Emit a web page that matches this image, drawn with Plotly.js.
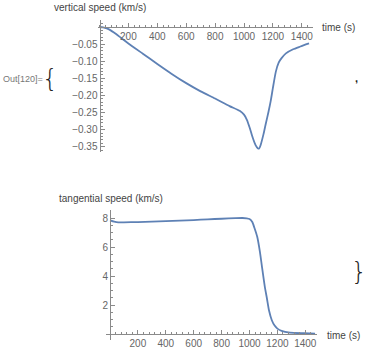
<!DOCTYPE html>
<html>
<head>
<meta charset="utf-8">
<script src="https://cdn.plot.ly/plotly-3.0.1.min.js"></script>
<style>
html,body{margin:0;padding:0;background:#fff;}
#chart{width:367px;height:353px;}
</style>
</head>
<body>
<div id="chart"></div>
<script>
// vertical speed (km/s) vs time (s)
const timeV = [0, 25, 50, 75, 100, 150, 200, 300, 400, 500, 600, 700, 800, 900, 970, 1000, 1020, 1040, 1060, 1080, 1095, 1105, 1115, 1135, 1150, 1170, 1185, 1200, 1220, 1240, 1260, 1290, 1340, 1390, 1450];
const vertSpeed = [0, -0.001, -0.004, -0.009, -0.016, -0.032, -0.048, -0.078, -0.108, -0.137, -0.164, -0.188, -0.209, -0.231, -0.245, -0.256, -0.271, -0.295, -0.323, -0.345, -0.354, -0.355, -0.345, -0.313, -0.284, -0.247, -0.216, -0.178, -0.131, -0.104, -0.091, -0.077, -0.065, -0.057, -0.048];

// tangential speed (km/s) vs time (s)
const timeH = [0, 30, 60, 100, 200, 300, 400, 500, 600, 700, 800, 900, 950, 980, 1000, 1020, 1035, 1055, 1075, 1090, 1110, 1125, 1140, 1160, 1180, 1200, 1230, 1290, 1390, 1470];
const tangSpeed = [7.84, 7.75, 7.70, 7.70, 7.72, 7.75, 7.78, 7.82, 7.86, 7.91, 7.95, 7.99, 8.0, 7.98, 7.93, 7.72, 7.33, 6.72, 5.65, 4.6, 3.25, 2.45, 1.62, 0.95, 0.58, 0.37, 0.21, 0.09, 0.05, 0.03];

const xTicks = [200, 400, 600, 800, 1000, 1200, 1400];
const vTicks = [-0.35, -0.30, -0.25, -0.20, -0.15, -0.10, -0.05];
const hTicks = [2, 4, 6, 8];

const W = 367, H = 353;
const px = v => v / W;
const py = v => 1 - v / H;

const lineColor = '#5E81B5';
const axisColor = '#8a8a8a';
const tickFont = {family: 'Liberation Sans, Arial, sans-serif', size: 10, color: '#666'};
const labFont = {family: 'Liberation Sans, Arial, sans-serif', size: 10, color: '#444'};
const braceFont = {family: 'DejaVu Sans', size: 25, color: '#222', weight: 200};

function fmt(v){ return (v < 0 ? '\u2212' : '') + Math.abs(v).toFixed(2); }

const traces = [
  {x: timeV, y: vertSpeed, xaxis: 'x', yaxis: 'y', mode: 'lines',
   line: {color: lineColor, width: 1.8, shape: 'spline', smoothing: 0.6}, hoverinfo: 'skip'},
  {x: timeH, y: tangSpeed, xaxis: 'x2', yaxis: 'y2', mode: 'lines',
   line: {color: lineColor, width: 1.8, shape: 'spline', smoothing: 0.6}, hoverinfo: 'skip'}
];

const common = {
  showgrid: false, zeroline: false, showline: true, linecolor: axisColor, linewidth: 1,
  ticks: 'inside', ticklen: 4, tickcolor: axisColor, tickwidth: 1, tickfont: tickFont,
  fixedrange: true
};

const layout = {
  width: W, height: H,
  margin: {l: 0, r: 0, t: 0, b: 0},
  paper_bgcolor: '#fff', plot_bgcolor: 'rgba(0,0,0,0)',
  showlegend: false,
  xaxis: Object.assign({}, common, {
    domain: [px(97.5), px(313)], range: [-13.8, 1477.5],
    anchor: 'free', position: py(27),
    tickmode: 'array', tickvals: xTicks, ticktext: xTicks.map(String),
    minor: {tickmode: 'linear', tick0: 0, dtick: 40, ticks: 'inside', ticklen: 2, tickcolor: axisColor}
  }),
  yaxis: Object.assign({}, common, {
    domain: [py(152), py(20)], range: [-0.3652, 0.0205],
    anchor: 'free', position: px(99.5),
    tickmode: 'array', tickvals: vTicks, ticktext: vTicks.map(fmt),
    minor: {tickmode: 'linear', tick0: 0, dtick: 0.01, ticks: 'inside', ticklen: 2, tickcolor: axisColor}
  }),
  xaxis2: Object.assign({}, common, {
    domain: [px(106), px(317)], range: [-28.7, 1483.9],
    anchor: 'free', position: py(334),
    tickmode: 'array', tickvals: xTicks, ticktext: xTicks.map(String),
    minor: {tickmode: 'linear', tick0: 0, dtick: 40, ticks: 'inside', ticklen: 2, tickcolor: axisColor}
  }),
  yaxis2: Object.assign({}, common, {
    domain: [py(340), py(210)], range: [-0.414, 8.552],
    anchor: 'free', position: px(110),
    tickmode: 'array', tickvals: hTicks, ticktext: hTicks.map(String),
    minor: {tickmode: 'linear', tick0: 0, dtick: 0.5, ticks: 'inside', ticklen: 2, tickcolor: axisColor}
  }),
  annotations: [
    {text: 'vertical speed (km/s)', xref: 'paper', yref: 'paper', x: px(99.5), y: py(7), xanchor: 'center', yanchor: 'middle', showarrow: false, font: labFont},
    {text: 'time (s)', xref: 'paper', yref: 'paper', x: px(320), y: py(27), xanchor: 'left', yanchor: 'middle', showarrow: false, font: labFont},
    {text: 'tangential speed (km/s)', xref: 'paper', yref: 'paper', x: px(110.5), y: py(198), xanchor: 'center', yanchor: 'middle', showarrow: false, font: labFont},
    {text: 'time (s)', xref: 'paper', yref: 'paper', x: px(325), y: py(335), xanchor: 'left', yanchor: 'middle', showarrow: false, font: labFont},
    {text: 'Out[120]=', xref: 'paper', yref: 'paper', x: px(1), y: py(79), xanchor: 'left', yanchor: 'middle', showarrow: false,
     font: {family: 'Liberation Sans, Arial, sans-serif', size: 9, color: '#777'}},
    {text: '{', xref: 'paper', yref: 'paper', x: px(50), y: py(78), xanchor: 'center', yanchor: 'middle', showarrow: false, font: braceFont},
    {text: ',', xref: 'paper', yref: 'paper', x: px(356), y: py(78), xanchor: 'center', yanchor: 'middle', showarrow: false,
     font: {family: 'Liberation Sans, Arial, sans-serif', size: 11, color: '#222', weight: 700}},
    {text: '}', xref: 'paper', yref: 'paper', x: px(358.8), y: py(271), xanchor: 'center', yanchor: 'middle', showarrow: false, font: braceFont}
  ]
};

Plotly.newPlot('chart', traces, layout, {staticPlot: true, displayModeBar: false});
</script>
</body>
</html>
